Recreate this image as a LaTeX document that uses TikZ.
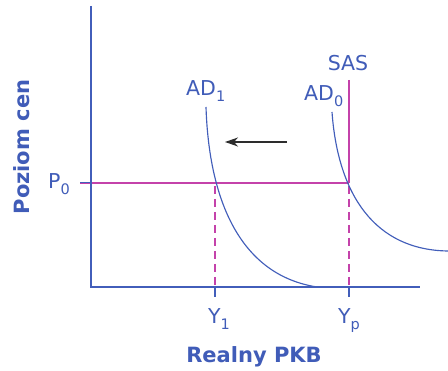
\documentclass[tikz,border=0pt]{standalone}
\usepackage{fontspec}
\setmainfont{DejaVu Sans}
\usetikzlibrary{arrows.meta}
\definecolor{axblue}{RGB}{66,94,186}
\definecolor{txblue}{RGB}{64,92,184}
\definecolor{mag}{RGB}{196,66,170}
\definecolor{arr}{RGB}{45,45,45}
\newcommand{\lowsub}[1]{\raisebox{-6pt}{\fontsize{14.5}{14.5}\selectfont #1}}
\begin{document}
\begin{tikzpicture}[x=1pt,y=-1pt,
  axis/.style={draw=axblue,line width=1.3pt},
  curve/.style={draw=axblue,line width=1.15pt},
  magline/.style={draw=mag,line width=1.3pt},
  magdash/.style={draw=mag,line width=1.2pt,dash pattern=on 8pt off 5pt,dash phase=-3pt},
  lbl/.style={text=txblue,font=\fontsize{20.5}{22}\selectfont,inner sep=0pt},
  title/.style={text=txblue,font=\fontsize{21}{23}\selectfont\bfseries,inner sep=0pt}]
\useasboundingbox (0,0) rectangle (448,371);
% coordinates
\coordinate (top) at (91,6);
\coordinate (O) at (91,287);
\coordinate (xend) at (420,287);
\coordinate (pl) at (80,183);
\coordinate (E0) at (349,183);
\coordinate (E1) at (215,183);
\coordinate (sastop) at (349,80);
\coordinate (f1) at (215,287);
\coordinate (fp) at (349,287);
\coordinate (t1) at (215,297);
\coordinate (tp) at (349,297);
\coordinate (ad1s) at (206,107);
\coordinate (ad1e) at (317,287);
\coordinate (ad0s) at (332,112);
\coordinate (ad0e) at (448,251);
\coordinate (arS) at (287,142);
\coordinate (arE) at (225,142);
% magenta lines
\draw[magline] (pl) -- (E0);
\draw[magline] (sastop) -- (E0);
\draw[magdash] (E0) -- (fp);
\draw[magdash] (E1) -- (f1);
% axes
\draw[axis] (top) -- (O) -- (xend);
\draw[axis] (f1) -- (t1);
\draw[axis] (fp) -- (tp);
\draw[axis,line width=1pt] (pl) -- (O |- pl);
% curves
\draw[curve] (ad1s) .. controls (209,200) and (240,275) .. (ad1e);
\draw[curve] (ad0s) .. controls (338,195) and (375,250) .. (ad0e);
% arrow
\draw[arr,line width=1.3pt,-{Stealth[length=13pt,width=9pt,inset=4pt]}] (arS) -- (arE);
% labels
\node[lbl] (sas) at (348,63) {SAS};
\node[lbl,anchor=base west] (ad1) at (186,96) {AD\lowsub{1}};
\node[lbl,anchor=base west] (ad0) at (304,101) {AD\lowsub{0}};
\node[lbl,anchor=base west] (p0) at (48,189) {P\lowsub{0}};
\node[lbl,anchor=base west] (y1) at (208,324) {Y\lowsub{1}};
\node[lbl,anchor=base west] (yp) at (338,324) {Y\lowsub{p}};
\node[title] (xt) at (254,357) {Realny PKB};
\node[title,rotate=90] (yt) at (22,147) {Poziom cen};
\end{tikzpicture}
\end{document}
